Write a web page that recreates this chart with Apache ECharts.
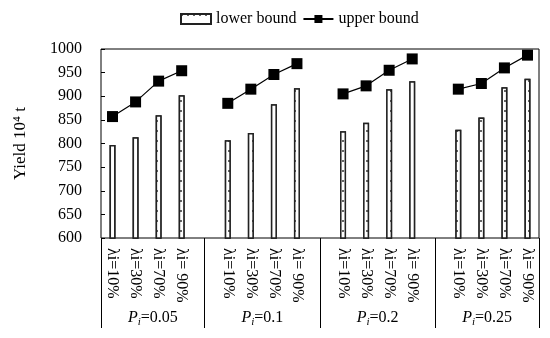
<!DOCTYPE html>
<html>
<head>
<meta charset="utf-8">
<script src="https://cdn.jsdelivr.net/npm/echarts@6/dist/echarts.min.js"></script>
<style>html,body{margin:0;padding:0;background:#fff}#c{width:550px;height:338px}</style>
</head>
<body>
<div id="c"></div>
<script>
// Categories (19 slots: 4 groups of 4, with empty gap slots between groups)
var categories = ['λi=10%','λi=30%','λi=70%','λi= 90%','',
                  'λi=10%','λi=30%','λi=70%','λi= 90%','',
                  'λi=10%','λi=30%','λi=70%','λi= 90%','',
                  'λi=10%','λi=30%','λi=70%','λi= 90%'];
var lowerBound = [797, 813, 860, 902, '-',
                  807, 822, 883, 917, '-',
                  826, 844, 915, 932, '-',
                  829, 855, 919, 937];
var upperBound = [857, 888, 932, 954, '-',
                  885, 915, 946, 969, '-',
                  905, 922, 955, 979, '-',
                  915, 927, 960, 987];
var groupNames = ['0.05', '0.1', '0.2', '0.25'];
var groupCenters = [2.25, 7, 12, 16.75];
var groupDividers = [0, 4.5, 9.5, 14.5, 19];
var yTicks = [600, 1000, 50];

var font = '"Liberation Serif", "Times New Roman", serif';
var chart = echarts.init(document.getElementById('c'));
chart.setOption({
  animation: false,
  textStyle: {fontFamily: font, color: '#000'},
  legend: {
    top: 6, left: 175,
    itemWidth: 30, itemHeight: 10, itemGap: 6,
    textStyle: {fontFamily: font, fontSize: 16, color: '#000'},
    data: [{name: 'lower bound', icon: 'rect'}, {name: 'upper bound'}]
  },
  grid: {left: 101, right: 11, top: 49, bottom: 100, show: true, borderColor: '#000', borderWidth: 1, backgroundColor: 'transparent'},
  xAxis: [{
    type: 'category',
    data: categories,
    axisLine: {show: false},
    axisTick: {show: false},
    axisLabel: {interval: 0, rotate: -90, margin: 10, fontFamily: font, fontSize: 16, color: '#000'}
  }, {
    type: 'value',
    min: 0, max: 19,
    position: 'bottom',
    axisLine: {show: false},
    splitLine: {show: false},
    axisTick: {show: true, customValues: groupDividers, length: 90, lineStyle: {color: '#000', width: 1}},
    axisLabel: {
      show: true, customValues: groupCenters, margin: 70, showMinLabel: true, showMaxLabel: true,
      formatter: function (v) {
        var i = groupCenters.indexOf(v);
        return '{p|P}{s|i}{n|=' + groupNames[i] + '}';
      },
      rich: {
        p: {fontFamily: font, fontSize: 16, fontStyle: 'italic', color: '#000', lineHeight: 20},
        s: {fontFamily: font, fontSize: 11, fontStyle: 'italic', color: '#000', verticalAlign: 'bottom', lineHeight: 20, padding: [6, 0, 0, 0]},
        n: {fontFamily: font, fontSize: 16, color: '#000', lineHeight: 20}
      }
    }
  }],
  yAxis: {
    type: 'value',
    min: yTicks[0], max: yTicks[1], interval: yTicks[2],
    name: 'Yield 10⁴ t',
    nameLocation: 'middle', nameGap: 72, nameRotate: 90,
    nameTextStyle: {fontFamily: font, fontSize: 17, color: '#000'},
    axisLine: {show: false},
    axisTick: {show: true, inside: true, length: 4, lineStyle: {color: '#000'}},
    splitLine: {show: false},
    axisLabel: {margin: 19, fontFamily: font, fontSize: 16, color: '#000', formatter: function (v) { return String(v); }}
  },
  series: [{
    name: 'lower bound',
    type: 'bar',
    xAxisIndex: 0,
    data: lowerBound,
    barWidth: 6,
    itemStyle: {
      color: '#fff', borderColor: '#222', borderWidth: 1.5,
      decal: {symbol: 'rect', symbolSize: 1, color: '#666', backgroundColor: '#fff', dashArrayX: [2, 4], dashArrayY: [2, 8], rotation: 0}
    }
  }, {
    name: 'upper bound',
    type: 'line',
    xAxisIndex: 0,
    data: upperBound,
    connectNulls: false,
    symbol: 'rect', symbolSize: 11,
    lineStyle: {color: '#000', width: 1.2},
    itemStyle: {color: '#000'}
  }]
});
</script>
</body>
</html>
